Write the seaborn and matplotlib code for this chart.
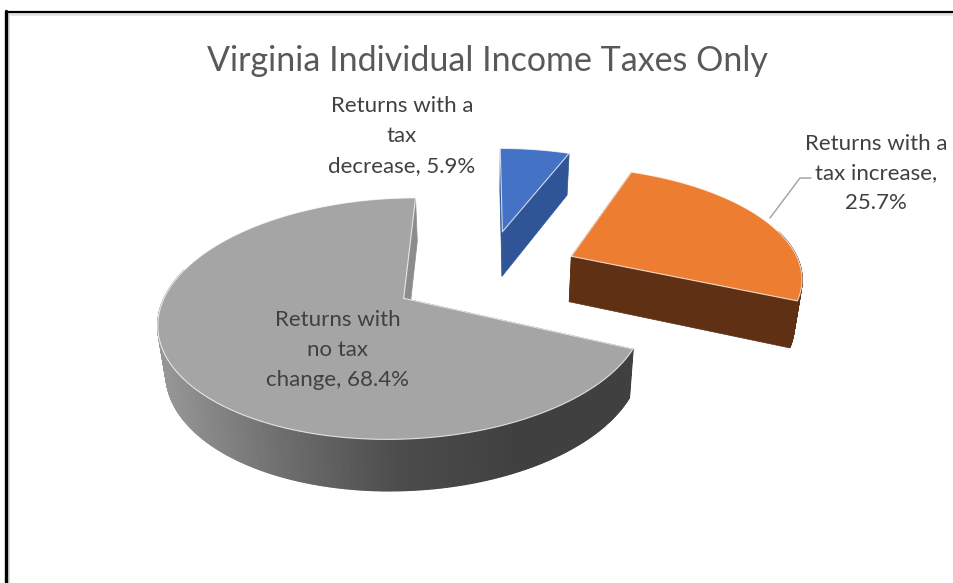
import numpy as np
import seaborn as sns
import matplotlib.pyplot as plt

# chart values
categories = ["Returns with a\ntax\ndecrease, 5.9%", "Returns with a\ntax increase,\n25.7%", "Returns with\nno tax\nchange, 68.4%"]
shares = [5.9, 25.7, 68.4]
top_colors = ["#4472C4", "#ED7D31", "#A5A5A5"]
side_colors = ["#2F5597", "#5F3013", "#7F7F7F"]
title = "Virginia Individual Income Taxes Only"

# projection of the tilted pie, in pixels
CX, CY, A, B, H, PERSP = 486, 273, 231, 109, 46, 0.162
EXPLODE = 0.41
ROTATION = 0.0
FONT = ["Lato", "DejaVu Sans"]

sns.set_theme(style="white")
plt.rcParams["font.family"] = FONT


def project(x, y, z=0.0):
    w = 1 + PERSP * y
    return CX + A * x / w * (1 - 0.025 * z), CY - B * y / w + H * z / np.sqrt(w)


fig, ax = plt.subplots(figsize=(9.54, 5.83), dpi=100)
ax.set_position([0, 0, 1, 1])
ax.set_xlim(0, 954)
ax.set_ylim(583, 0)
ax.axis("off")

# chart frame, only top and left are in the crop
ax.plot([8, 954], [13.5, 13.5], color="#e4e4e4", lw=2, zorder=1)
ax.plot([8.5, 8.5], [13, 583], color="#dcdcdc", lw=2, zorder=1)
ax.plot([6, 954], [11.5, 11.5], color="black", lw=1.6, zorder=2)
ax.plot([6, 6], [11, 583], color="black", lw=2.4, zorder=2)

grey_ramp = sns.blend_palette(["#969696", "#6e6e6e", "#4c4c4c", "#404040"], 100)

edges = np.cumsum([0] + shares) / 100 * 360 + ROTATION
for i in [2, 0, 1]:
    t0, t1 = np.radians(edges[i]), np.radians(edges[i + 1])
    mid = (t0 + t1) / 2
    ox, oy = EXPLODE * np.sin(mid), EXPLODE * np.cos(mid)
    tt = np.linspace(t0, t1, int(np.degrees(t1 - t0)) * 2 + 2)
    rx, ry = ox + np.sin(tt), oy + np.cos(tt)

    # cut faces
    for k in [0, -1]:
        c = side_colors[i]
        px = [ox, rx[k], rx[k], ox]
        py = [oy, ry[k], ry[k], oy]
        pz = [0, 0, 1, 1]
        s = [project(a, b, z) for a, b, z in zip(px, py, pz)]
        if i == 2:
            c = "#434343" if k == 0 else "#8c8c8c"
        ax.fill(*zip(*s), color=c, lw=0.5, zorder=3)

    # outer wall
    for j in range(len(tt) - 1):
        q = [project(rx[j], ry[j]), project(rx[j + 1], ry[j + 1]),
             project(rx[j + 1], ry[j + 1], 1), project(rx[j], ry[j], 1)]
        if np.cos((tt[j] + tt[j + 1]) / 2) > 0.25:
            continue
        c = side_colors[i]
        if i == 2:
            c = grey_ramp[int(np.clip((q[0][0] - 160) / 360, 0, 0.99) * 100)]
        ax.fill(*zip(*q), color=c, lw=1.0, zorder=4)

    # top of the slice
    sx, sy = project(rx, ry)
    ax0, ay0 = project(ox, oy)
    xs = np.r_[ax0, sx]
    ys = np.r_[ay0, sy]
    ax.fill(xs, ys, color=top_colors[i], lw=0, zorder=5)
    ax.plot(np.r_[xs, ax0], np.r_[ys, ay0], color="white", lw=0.8, alpha=0.75, zorder=6)

# title and labels
ax.text(487, 61, title, fontsize=24.5, color="#595959", ha="center", va="center", zorder=8)
ax.text(402, 136, categories[0], fontsize=16, color="#404040", ha="center", va="center",
        linespacing=1.63, zorder=8)
ax.text(876, 173.5, categories[1], fontsize=16, color="#404040", ha="center", va="center",
        linespacing=1.6, zorder=8)
ax.text(338, 350, categories[2], fontsize=16, color="#404040", ha="center", va="center",
        linespacing=1.63, zorder=8)
ax.plot([770, 800, 811], [218, 178, 178], color="#a6a6a6", lw=1.1, zorder=7)

fig.savefig("out.png", dpi=100, facecolor="white")
